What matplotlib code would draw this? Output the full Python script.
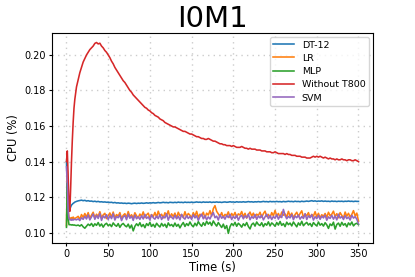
import numpy as np
import matplotlib
matplotlib.use("Agg")
import matplotlib.pyplot as plt

time = np.concatenate([np.arange(0, 10), np.arange(10, 351, 2)])

without_t800 = [
    0.140, 0.146, 0.132, 0.116, 0.112, 0.125, 0.140, 0.152, 0.162, 0.170,
    0.175, 0.182, 0.186, 0.190, 0.193, 0.196, 0.198, 0.200, 0.2015, 0.203,
    0.204, 0.205, 0.2065, 0.207, 0.2062, 0.2066, 0.205, 0.204, 0.2025, 0.2015,
    0.2000, 0.1985, 0.1965, 0.1950, 0.1930, 0.1915, 0.1900, 0.1885, 0.1870, 0.1855,
    0.1845, 0.1830, 0.1815, 0.1800, 0.1790, 0.1775, 0.1765, 0.1755, 0.1745, 0.1735,
    0.1725, 0.1715, 0.1705, 0.1700, 0.1690, 0.1685, 0.1675, 0.1670, 0.1660, 0.1655,
    0.1650, 0.1640, 0.1635, 0.1630, 0.1620, 0.1615, 0.1610, 0.1605, 0.1600, 0.1595,
    0.1595, 0.1590, 0.1585, 0.1580, 0.1575, 0.1570, 0.1570, 0.1565, 0.1560, 0.1555,
    0.1555, 0.1550, 0.1545, 0.1540, 0.1540, 0.1535, 0.1530, 0.1530, 0.1525, 0.1525,
    0.1530, 0.1525, 0.1520, 0.1515, 0.1515, 0.1510, 0.1505, 0.1500, 0.1500, 0.1495,
    0.1495, 0.1490, 0.1490, 0.1490, 0.1485, 0.1490, 0.1485, 0.1480, 0.1480, 0.1480,
    0.1485, 0.1480, 0.1475, 0.1475, 0.1470, 0.1475, 0.1470, 0.1470, 0.1470, 0.1465,
    0.1465, 0.1465, 0.1460, 0.1460, 0.1460, 0.1455, 0.1455, 0.1455, 0.1450, 0.1450,
    0.1455, 0.1450, 0.1445, 0.1445, 0.1445, 0.1445, 0.1440, 0.1445, 0.1440, 0.1440,
    0.1435, 0.1435, 0.1435, 0.1430, 0.1430, 0.1430, 0.1425, 0.1425, 0.1425, 0.1420,
    0.1420, 0.1420, 0.1425, 0.1430, 0.1425, 0.1430, 0.1425, 0.1430, 0.1425, 0.1420,
    0.1425, 0.1420, 0.1415, 0.1420, 0.1415, 0.1415, 0.1410, 0.1415, 0.1410, 0.1410,
    0.1415, 0.1410, 0.1410, 0.1405, 0.1410, 0.1410, 0.1405, 0.1405, 0.1410, 0.1405,
    0.1400,
]

dt12 = [
    0.140, 0.126, 0.113, 0.112, 0.1130, 0.1145, 0.1155, 0.1160, 0.1165, 0.1168,
    0.1172, 0.1176, 0.1179, 0.1181, 0.1183, 0.1180, 0.1182, 0.1178, 0.1180, 0.1177,
    0.1178, 0.1175, 0.1177, 0.1174, 0.1176, 0.1173, 0.1174, 0.1172, 0.1173, 0.1171,
    0.1172, 0.1170, 0.1171, 0.1168, 0.1170, 0.1167, 0.1168, 0.1166, 0.1167, 0.1165,
    0.1166, 0.1164, 0.1166, 0.1165, 0.1163, 0.1165, 0.1166, 0.1164, 0.1166, 0.1165,
    0.1167, 0.1165, 0.1166, 0.1168, 0.1166, 0.1168, 0.1167, 0.1169, 0.1167, 0.1168,
    0.1170, 0.1168, 0.1169, 0.1171, 0.1169, 0.1170, 0.1168, 0.1171, 0.1170, 0.1169,
    0.1171, 0.1169, 0.1172, 0.1170, 0.1171, 0.1169, 0.1172, 0.1170, 0.1171, 0.1170,
    0.1172, 0.1170, 0.1171, 0.1173, 0.1171, 0.1172, 0.1170, 0.1173, 0.1171, 0.1172,
    0.1171, 0.1173, 0.1170, 0.1172, 0.1171, 0.1173, 0.1171, 0.1172, 0.1170, 0.1172,
    0.1173, 0.1171, 0.1172, 0.1174, 0.1172, 0.1173, 0.1171, 0.1174, 0.1172, 0.1173,
    0.1172, 0.1174, 0.1172, 0.1173, 0.1175, 0.1173, 0.1174, 0.1172, 0.1174, 0.1173,
    0.1175, 0.1173, 0.1174, 0.1176, 0.1174, 0.1175, 0.1173, 0.1176, 0.1174, 0.1175,
    0.1174, 0.1176, 0.1174, 0.1175, 0.1173, 0.1176, 0.1174, 0.1175, 0.1177, 0.1175,
    0.1176, 0.1174, 0.1177, 0.1175, 0.1176, 0.1174, 0.1177, 0.1175, 0.1176, 0.1178,
    0.1176, 0.1178, 0.1180, 0.1177, 0.1179, 0.1176, 0.1178, 0.1177, 0.1179, 0.1176,
    0.1178, 0.1176, 0.1177, 0.1175, 0.1178, 0.1176, 0.1177, 0.1175, 0.1177, 0.1176,
    0.1177, 0.1175, 0.1177, 0.1176, 0.1178, 0.1176, 0.1177, 0.1175, 0.1177, 0.1176,
    0.1176,
]

lr = [
    0.104, 0.135, 0.114, 0.108, 0.1082, 0.1078, 0.1085, 0.1080, 0.1088, 0.1079,
    0.1080, 0.1085, 0.1092, 0.1075, 0.1102, 0.1086, 0.1108, 0.1088, 0.1113, 0.1083,
    0.1099, 0.1115, 0.1084, 0.1104, 0.1091, 0.1118, 0.1085, 0.1100, 0.1109, 0.1079,
    0.1096, 0.1111, 0.1087, 0.1116, 0.1083, 0.1102, 0.1093, 0.1113, 0.1080, 0.1098,
    0.1107, 0.1086, 0.1119, 0.1090, 0.1101, 0.1082, 0.1112, 0.1095, 0.1084, 0.1105,
    0.1092, 0.1117, 0.1085, 0.1100, 0.1110, 0.1081, 0.1102, 0.1090, 0.1114, 0.1087,
    0.1121, 0.1093, 0.1104, 0.1083, 0.1112, 0.1097, 0.1123, 0.1086, 0.1106, 0.1091,
    0.1110, 0.1082, 0.1115, 0.1095, 0.1102, 0.1085, 0.1118, 0.1090, 0.1108, 0.1098,
    0.1084, 0.1113, 0.1093, 0.1120, 0.1087, 0.1104, 0.1095, 0.1115, 0.1083, 0.1110,
    0.1099, 0.1124, 0.1093, 0.1135, 0.1152, 0.1120, 0.1106, 0.1091, 0.1113, 0.1086,
    0.1103, 0.1096, 0.1117, 0.1085, 0.1108, 0.1094, 0.1114, 0.1087, 0.1106, 0.1099,
    0.1119, 0.1090, 0.1109, 0.1082, 0.1102, 0.1116, 0.1093, 0.1110, 0.1086, 0.1104,
    0.1097, 0.1115, 0.1087, 0.1107, 0.1121, 0.1091, 0.1103, 0.1084, 0.1113, 0.1095,
    0.1125, 0.1094, 0.1108, 0.1086, 0.1116, 0.1098, 0.1105, 0.1088, 0.1120, 0.1093,
    0.1110, 0.1084, 0.1102, 0.1115, 0.1091, 0.1108, 0.1123, 0.1087, 0.1104, 0.1095,
    0.1113, 0.1085, 0.1103, 0.1093, 0.1118, 0.1089, 0.1109, 0.1083, 0.1101, 0.1092,
    0.1108, 0.1086, 0.1115, 0.1095, 0.1104, 0.1121, 0.1090, 0.1107, 0.1084, 0.1113,
    0.1098, 0.1082, 0.1116, 0.1093, 0.1109, 0.1088, 0.1103, 0.1124, 0.1094, 0.1110,
    0.1065,
]

mlp = [
    0.103, 0.128, 0.108, 0.1045, 0.1045, 0.1045, 0.1043, 0.1045, 0.1042, 0.1044,
    0.1042, 0.1040, 0.1043, 0.1037, 0.1045, 0.1033, 0.1025, 0.1037, 0.1048, 0.1040,
    0.1052, 0.1035, 0.1050, 0.1041, 0.1057, 0.1037, 0.1049, 0.1031, 0.1046, 0.1053,
    0.1039, 0.1047, 0.1034, 0.1055, 0.1043, 0.1036, 0.1051, 0.1030, 0.1045, 0.1052,
    0.1040, 0.1033, 0.1048, 0.1026, 0.1043, 0.1010, 0.1036, 0.1050, 0.1039, 0.1056,
    0.1034, 0.1046, 0.1028, 0.1051, 0.1040, 0.1058, 0.1035, 0.1047, 0.1031, 0.1053,
    0.1041, 0.1032, 0.1052, 0.1037, 0.1048, 0.1029, 0.1055, 0.1039, 0.1046, 0.1034,
    0.1054, 0.1036, 0.1047, 0.1027, 0.1044, 0.1057, 0.1035, 0.1051, 0.1040, 0.1060,
    0.1043, 0.1033, 0.1053, 0.1039, 0.1062, 0.1047, 0.1036, 0.1056, 0.1041, 0.1064,
    0.1048, 0.1059, 0.1040, 0.1066, 0.1050, 0.1037, 0.1057, 0.1043, 0.1029, 0.1048,
    0.1023, 0.1040, 0.0996, 0.1034, 0.1051, 0.1041, 0.1058, 0.1036, 0.1053, 0.1044,
    0.1031, 0.1050, 0.1039, 0.1057, 0.1035, 0.1021, 0.1046, 0.1054, 0.1037, 0.1060,
    0.1046, 0.1040, 0.1056, 0.1034, 0.1051, 0.1042, 0.1061, 0.1038, 0.1055, 0.1047,
    0.1036, 0.1057, 0.1043, 0.1063, 0.1041, 0.1051, 0.1034, 0.1059, 0.1045, 0.1054,
    0.1038, 0.1060, 0.1047, 0.1033, 0.1055, 0.1042, 0.1064, 0.1039, 0.1050, 0.1058,
    0.1043, 0.1052, 0.1035, 0.1057, 0.1046, 0.1038, 0.1060, 0.1042, 0.1051, 0.1037,
    0.1056, 0.1044, 0.1024, 0.1049, 0.1040, 0.1059, 0.1020, 0.1046, 0.1054, 0.1036,
    0.1058, 0.1042, 0.1051, 0.1033, 0.1055, 0.1043, 0.1060, 0.1038, 0.1049, 0.1053,
    0.1045,
]

svm = [
    0.137, 0.126, 0.112, 0.108, 0.1072, 0.1075, 0.1070, 0.1076, 0.1071, 0.1074,
    0.1075, 0.1072, 0.1078, 0.1068, 0.1084, 0.1075, 0.1092, 0.1077, 0.1100, 0.1072,
    0.1089, 0.1105, 0.1075, 0.1097, 0.1080, 0.1108, 0.1069, 0.1094, 0.1083, 0.1101,
    0.1074, 0.1095, 0.1079, 0.1107, 0.1071, 0.1091, 0.1084, 0.1100, 0.1068, 0.1089,
    0.1096, 0.1073, 0.1104, 0.1081, 0.1093, 0.1069, 0.1099, 0.1078, 0.1090, 0.1075,
    0.1095, 0.1077, 0.1103, 0.1080, 0.1089, 0.1071, 0.1100, 0.1084, 0.1076, 0.1094,
    0.1079, 0.1102, 0.1074, 0.1091, 0.1083, 0.1106, 0.1070, 0.1096, 0.1087, 0.1077,
    0.1098, 0.1078, 0.1093, 0.1072, 0.1103, 0.1085, 0.1076, 0.1097, 0.1080, 0.1091,
    0.1075, 0.1101, 0.1083, 0.1095, 0.1069, 0.1090, 0.1104, 0.1078, 0.1096, 0.1073,
    0.1089, 0.1077, 0.1098, 0.1113, 0.1084, 0.1093, 0.1071, 0.1101, 0.1081, 0.1091,
    0.1076, 0.1097, 0.1085, 0.1103, 0.1074, 0.1092, 0.1080, 0.1099, 0.1070, 0.1090,
    0.1098, 0.1078, 0.1095, 0.1084, 0.1105, 0.1073, 0.1091, 0.1081, 0.1102, 0.1075,
    0.1094, 0.1083, 0.1099, 0.1072, 0.1089, 0.1104, 0.1079, 0.1096, 0.1074, 0.1091,
    0.1081, 0.1101, 0.1076, 0.1095, 0.1085, 0.1131, 0.1097, 0.1078, 0.1092, 0.1083,
    0.1102, 0.1073, 0.1094, 0.1084, 0.1099, 0.1076, 0.1091, 0.1080, 0.1107, 0.1074,
    0.1095, 0.1085, 0.1101, 0.1071, 0.1090, 0.1079, 0.1097, 0.1075, 0.1093, 0.1083,
    0.1099, 0.1070, 0.1089, 0.1080, 0.1098, 0.1076, 0.1094, 0.1072, 0.1104, 0.1082,
    0.1091, 0.1074, 0.1096, 0.1079, 0.1088, 0.1071, 0.1098, 0.1082, 0.1090, 0.1076,
    0.1050,
]

series = [
    ("DT-12", dt12, "#1f77b4"),
    ("LR", lr, "#ff7f0e"),
    ("MLP", mlp, "#2ca02c"),
    ("Without T800", without_t800, "#d62728"),
    ("SVM", svm, "#9467bd"),
]

fig = plt.figure(figsize=(4.15, 2.77), dpi=100)
ax = fig.add_axes([0.125, 0.123, 0.774, 0.758])
for name, vals, col in series:
    ax.plot(time, vals, color=col, linewidth=1.15, label=name)

ax.grid(True, linestyle=(0, (1, 3)), color="#cccccc", linewidth=1.0)
ax.tick_params(labelsize=7, length=2.5, width=0.8, pad=2)
ax.set_xlabel("Time (s)", fontsize=8.3, labelpad=1)
ax.set_ylabel("CPU (%)", fontsize=8.3, labelpad=3)
ax.set_title("I0M1", fontsize=21, pad=4)
ax.set_xticks([0, 50, 100, 150, 200, 250, 300, 350])
ax.set_yticks([0.10, 0.12, 0.14, 0.16, 0.18, 0.20])
ax.legend(loc="upper right", fontsize=6.8, handlelength=2.2, labelspacing=0.45,
          borderaxespad=0.4, frameon=True)
fig.savefig("out.png", dpi=100)
